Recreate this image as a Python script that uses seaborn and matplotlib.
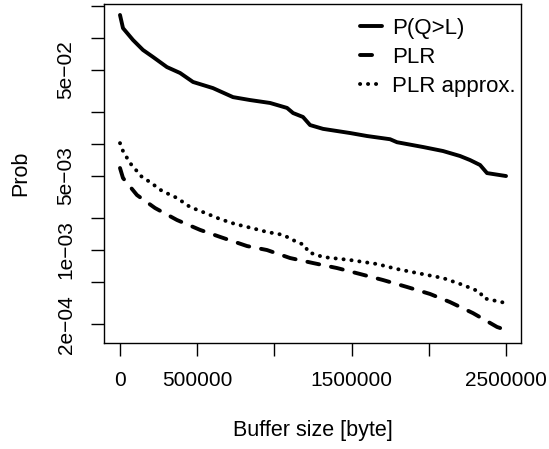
import numpy as np
import pandas as pd
import seaborn as sns
import matplotlib
matplotlib.use("Agg")
import matplotlib.pyplot as plt

# ---- data ----
pql_x = [0, 19400, 84200, 149000, 214000, 304000, 389000, 473000, 602000, 732000,
         842000, 972000, 1082000, 1121000, 1185000, 1231000, 1315000, 1490000,
         1600000, 1749000, 1794000, 1963000, 2092000, 2202000, 2267000, 2332000,
         2377000, 2500000]
pql_y = [0.165, 0.124, 0.0958, 0.0771, 0.0662, 0.0532, 0.0468, 0.0385, 0.0337, 0.0277,
         0.0260, 0.0244, 0.0219, 0.0196, 0.0180, 0.0151, 0.0139, 0.0127,
         0.0119, 0.0111, 0.0104, 0.00937, 0.00859, 0.00771, 0.00706, 0.00634,
         0.00532, 0.00499]

plr_x = [0, 19400, 110000, 227000, 369000, 518000, 648000, 823000, 952000, 1101000,
         1250000, 1406000, 1555000, 1704000, 1859000, 2008000, 2137000, 2286000,
         2442000, 2480000]
plr_y = [0.00594, 0.00478, 0.00330, 0.00249, 0.00192, 0.00155, 0.00133, 0.00109, 0.00100,
         0.000841, 0.000754, 0.000676, 0.000594, 0.000521, 0.000448, 0.000385,
         0.000323, 0.000254, 0.000188, 0.000180]

apx_x = [0, 19400, 64800, 142000, 194000, 272000, 369000, 453000, 551000, 648000,
         745000, 855000, 952000, 1056000, 1146000, 1198000, 1218000, 1315000,
         1490000, 1665000, 1794000, 1924000, 2092000, 2222000, 2332000, 2351000,
         2500000]
apx_y = [0.0102, 0.00859, 0.00662, 0.00489, 0.00438, 0.00361, 0.00310, 0.00255, 0.00224,
         0.00196, 0.00176, 0.00161, 0.00148, 0.00139, 0.00119, 0.00111, 0.000957,
         0.000859, 0.000805, 0.000738, 0.000662, 0.000607, 0.000544, 0.000468,
         0.000402, 0.000352, 0.000316]

labels = ["P(Q>L)", "PLR", "PLR approx."]
x_ticks = [0, 500000, 1000000, 1500000, 2000000, 2500000]
x_ticklabels = ["0", "500000", "", "1500000", "", "2500000"]
y_ticks = [2e-4, 5e-4, 1e-3, 2e-3, 5e-3, 1e-2, 2e-2, 5e-2, 1e-1, 2e-1]
y_ticklabels = ["2e\u221204", "", "1e\u221203", "", "5e\u221203", "", "", "5e\u221202", "", ""]

# ---- style ----
sns.set_style("ticks")
plt.rcParams["font.family"] = ["Liberation Sans", "DejaVu Sans"]
for k in ["text.color", "axes.labelcolor", "xtick.color", "ytick.color", "axes.edgecolor"]:
    plt.rcParams[k] = "black"
FS = 15

fig = plt.figure(figsize=(5.49, 4.49), dpi=100)
W, H = 549, 449
L, R, T, B = 104, 521, 4, 343
ax = fig.add_axes([L / W, 1 - B / H, (R - L) / W, (B - T) / H])

LW = 2.8
sns.lineplot(x=pql_x, y=pql_y, ax=ax, color="black", lw=LW, label=labels[0],
             solid_capstyle="round", solid_joinstyle="round", sort=False)
sns.lineplot(x=plr_x, y=plr_y, ax=ax, color="black", lw=LW, label=labels[1],
             linestyle=(0, (3.1, 3.1)), dash_capstyle="round", sort=False)
sns.lineplot(x=apx_x, y=apx_y, ax=ax, color="black", lw=LW, label=labels[2],
             linestyle=(0, (0.05, 2.0)), dash_capstyle="round", sort=False)

ax.set_yscale("log")
ax.set_xlim(-103600, 2597000)
ax.set_ylim(10 ** -3.877, 10 ** -0.679)

ax.set_xticks(x_ticks)
ax.set_xticklabels(x_ticklabels, fontsize=FS)
ax.set_yticks(y_ticks)
ax.set_yticklabels(y_ticklabels, fontsize=FS, rotation=90, va="center")
ax.yaxis.set_minor_locator(matplotlib.ticker.NullLocator())
ax.tick_params(axis="both", which="major", length=9.5, width=1.0, color="black",
               labelcolor="black", direction="out", pad=11)

for s in ax.spines.values():
    s.set_visible(True)
    s.set_color("black")
    s.set_linewidth(1.0)

ax.set_xlabel("Buffer size [byte]", fontsize=15.5, labelpad=21, color="black")
ax.set_ylabel("Prob", fontsize=15.5, labelpad=18, color="black")

leg = ax.legend(loc="upper left", bbox_to_anchor=(360 / W, 1 - 18 / H),
                bbox_transform=fig.transFigure, frameon=False, fontsize=16,
                handlelength=1.0, handletextpad=0.45, labelspacing=0.36,
                borderpad=0, borderaxespad=0)
for t in leg.get_texts():
    t.set_color("black")

fig.savefig("out.png", dpi=100)
